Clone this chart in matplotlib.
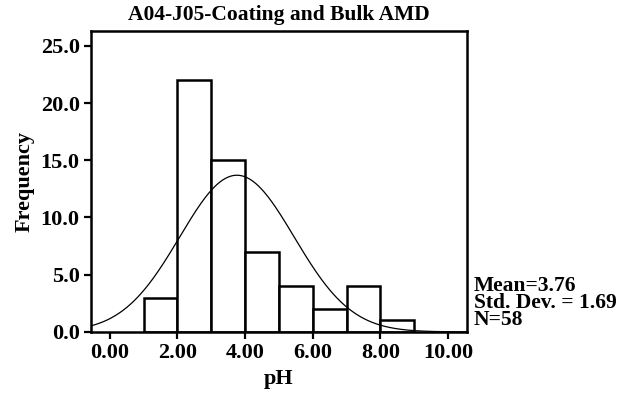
import numpy as np
import matplotlib.pyplot as plt

# ── Data ─────────────────────────────────────────────────────
bin_left = [1, 2, 3, 4, 5, 6, 7, 8]
counts = [3, 22, 15, 7, 4, 2, 4, 1]
bin_width = 1.0
mean_ph = 3.76
sd_ph = 1.69
n_obs = 58
xticks = [0, 2, 4, 6, 8, 10]
yticks = [0, 5, 10, 15, 20, 25]

plt.rcParams['font.family'] = ['Liberation Serif', 'DejaVu Serif']
plt.rcParams['font.weight'] = 'bold'

fig = plt.figure(figsize=(6.26, 3.97), dpi=100)
ax = fig.add_axes([0.145, 0.164, 0.601, 0.758])

# histogram bars
ax.bar(bin_left, counts, width=bin_width, align='edge',
       facecolor='white', edgecolor='black', linewidth=1.8, zorder=2)

# fitted normal curve, scaled to counts
xs = np.linspace(-0.56, 10.56, 400)
pdf = np.exp(-0.5 * ((xs - mean_ph) / sd_ph) ** 2) / (sd_ph * np.sqrt(2 * np.pi))
ax.plot(xs, n_obs * bin_width * pdf, color='black', lw=0.9, zorder=3)

ax.set_xlim(-0.56, 10.56)
ax.set_ylim(0, 26.3)
ax.set_xticks(xticks)
ax.set_xticklabels([f'{v:.2f}' for v in xticks])
ax.set_yticks(yticks)
ax.set_yticklabels([f'{v:.1f}' for v in yticks])
ax.tick_params(direction='out', length=5, width=1.6, labelsize=16, pad=3)
for sp in ax.spines.values():
    sp.set_linewidth(1.8)

ax.set_xlabel('pH', fontsize=16, fontweight='bold', labelpad=4)
ax.set_ylabel('Frequency', fontsize=16, fontweight='bold', labelpad=4)
ax.set_title('A04-J05-Coating and Bulk AMD', fontsize=15.5,
             fontweight='bold', pad=8)

# summary statistics beside the plot
fig.text(0.757, 0.168,
         f'Mean={mean_ph:.2f}\nStd. Dev. = {sd_ph:.2f}\nN={n_obs}',
         fontsize=15.5, fontweight='bold', ha='left', va='bottom',
         linespacing=0.82)

plt.savefig('out.png', dpi=100)
